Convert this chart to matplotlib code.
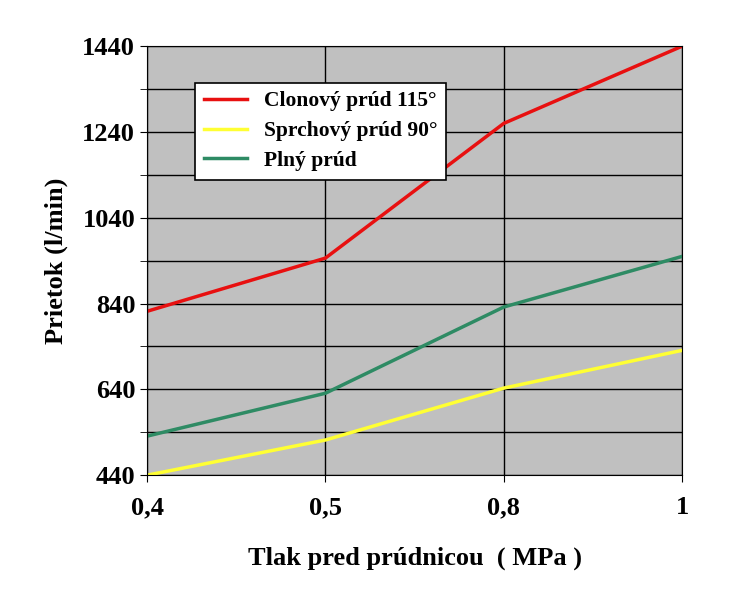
import numpy as np
import matplotlib.pyplot as plt

plt.rcParams['font.family'] = 'Liberation Serif'
plt.rcParams['font.weight'] = 'bold'

tlak = ['0,4', '0,5', '0,8', '1']
clonovy = [822, 946, 1260, 1440]
sprchovy = [440, 522, 643, 731]
plny = [531, 631, 832, 950]

fig = plt.figure(figsize=(7.35, 6), dpi=100)
ax = fig.add_axes([0.2, 0.208, 0.728, 0.715])
ax.set_facecolor('#c0c0c0')
x = np.arange(len(tlak))
ax.plot(x, clonovy, color='#e81010', lw=2.5, label='Clonový prúd 115°')
ax.plot(x, sprchovy, color='#ffff33', lw=2.5, label='Sprchový prúd 90°')
ax.plot(x, plny, color='#2e8b64', lw=2.5, label='Plný prúd')

ax.set_xlim(0, 3)
ax.set_ylim(440, 1440)
ax.set_xticks(x)
ax.set_xticklabels(tlak)
ax.set_yticks(np.arange(440, 1441, 200))
ax.set_yticks(np.arange(440, 1441, 100), minor=True)
ax.grid(True, which='both', color='black', lw=1)
ax.set_axisbelow(True)
ax.tick_params(labelsize=19, length=5, which='both')
ax.tick_params(axis='x', pad=10)
for s in ax.spines.values():
    s.set_color('black')
ax.set_xlabel('Tlak pred prúdnicou  ( MPa )', fontsize=19, fontweight='bold', labelpad=20)
ax.set_ylabel('Prietok (l/min)', fontsize=19, fontweight='bold', labelpad=10)
leg = ax.legend(loc='upper left', bbox_to_anchor=(0.07, 0.94), fontsize=15.5,
                fancybox=False, framealpha=1, edgecolor='black', handlelength=2,
                labelspacing=0.45)
leg.get_frame().set_linewidth(1.2)
fig.savefig('out.png', dpi=100)
